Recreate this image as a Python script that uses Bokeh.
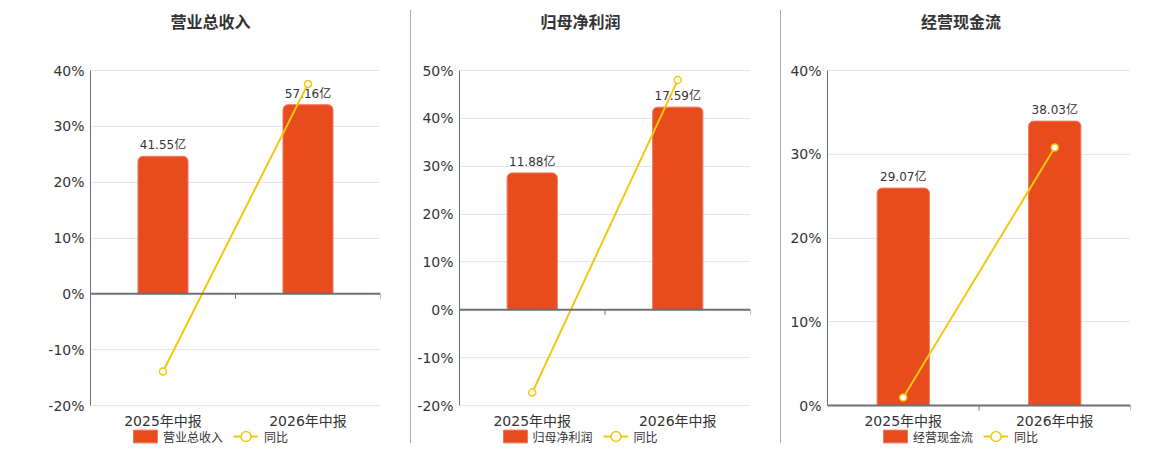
import math
from bokeh.plotting import figure
from bokeh.models import (Range1d, PrintfTickFormatter, FixedTicker, Span, Label,
                          Legend, LegendItem, Div)
from bokeh.layouts import row
from bokeh.core.properties import value
from bokeh.embed import file_html
from bokeh.resources import INLINE

# ---------------- data ----------------
categories = ["2025年中报", "2026年中报"]
titles = ["营业总收入", "归母净利润", "经营现金流"]
revenue = [41.55, 57.16]
revenue_yoy = [-13.9, 37.6]
profit = [11.88, 17.59]
profit_yoy = [-17.3, 48.0]
cashflow = [29.07, 38.03]
cashflow_yoy = [0.96, 30.8]
pct_ticks_1 = [-20, -10, 0, 10, 20, 30, 40]
pct_ticks_2 = [-20, -10, 0, 10, 20, 30, 40, 50]
pct_ticks_3 = [0, 10, 20, 30, 40]
unit = "亿"
yoy_name = "同比"

# ---------------- style / layout ----------------
BAR = "#E84B1C"
BAR_EDGE = "#F0785A"
LINE = "#F2C80F"
GRID = "#E0E6F1"
AXIS = "#6E7079"
TEXT = "#333333"
FONT = "DejaVu Sans, Noto Sans CJK SC"

CANVAS_H = 448
PLOT_TOP = 70      # px from canvas top to the top of the value area
PLOT_H = 335       # px height of the value area

panels = [
    dict(title=titles[0], bars=revenue, yoy=revenue_yoy, ticks=pct_ticks_1, bar_axis=(-33.75, 67.5),
         width=410, bl=90, br=30, title_off=-25, legend_x=43),
    dict(title=titles[1], bars=profit, yoy=profit_yoy, ticks=pct_ticks_2, bar_axis=(-8.31, 20.77),
         width=369, bl=48, br=30, title_off=-24.5, legend_x=43.5),
    dict(title=titles[2], bars=cashflow, yoy=cashflow_yoy, ticks=pct_ticks_3, bar_axis=(0, 44.8),
         width=371, bl=46, br=22, title_off=-18, legend_x=56),
]


def extend(lo, hi):
    """Range whose [lo, hi] part covers the value area, extended over the whole canvas."""
    ppu = PLOT_H / (hi - lo)
    return Range1d(lo - (CANVAS_H - PLOT_TOP - PLOT_H) / ppu, hi + PLOT_TOP / ppu)


def make_panel(cfg):
    ticks = cfg["ticks"]
    lo, hi = ticks[0], ticks[-1]
    n = len(categories)
    xs = [i + 0.5 for i in range(n)]          # category slots on the x scale
    p = figure(x_range=Range1d(0, n), y_range=extend(lo, hi),
               width=cfg["width"], height=CANVAS_H,
               min_border_left=cfg["bl"], min_border_right=cfg["br"],
               min_border_top=0, min_border_bottom=0,
               output_backend="svg", toolbar_location=None, tools="",
               x_axis_location=None)
    p.outline_line_color = None
    p.background_fill_color = "white"
    p.border_fill_color = "white"
    p.xgrid.visible = False
    p.ygrid.grid_line_color = GRID
    p.ygrid.grid_line_width = 1
    p.ygrid.ticker = FixedTicker(ticks=ticks)

    yax = p.yaxis[0]
    yax.ticker = FixedTicker(ticks=ticks)
    yax.bounds = (lo, hi)
    yax.formatter = PrintfTickFormatter(format="%d%%")
    yax.major_tick_out = 0
    yax.major_tick_in = 0
    yax.minor_tick_out = 0
    yax.minor_tick_in = 0
    yax.axis_line_color = AXIS
    yax.axis_line_width = 1
    yax.major_label_standoff = 6
    yax.major_label_text_font_size = "14px"
    yax.major_label_text_color = TEXT
    yax.major_label_text_font = FONT

    p.extra_y_ranges = {"bars": extend(*cfg["bar_axis"])}

    # bars
    bar_r = p.vbar(x=xs, top=cfg["bars"], bottom=0, width=0.345, y_range_name="bars",
                   fill_color=BAR, line_color=BAR_EDGE, line_width=1,
                   border_radius=(5, 5, 0, 0))
    p.text(x=xs, y=cfg["bars"], text=[f"{v:.2f}{unit}" for v in cfg["bars"]],
           y_range_name="bars", text_align="center", text_baseline="bottom", y_offset=-4,
           text_font_size="12px", text_color=TEXT, text_font=value(FONT))

    # category axis: zero line, boundary ticks, labels under the value area
    p.add_layout(Span(location=0, dimension="width", line_color=AXIS, line_width=2))
    p.ray(x=list(range(1, n + 1)), y=[0] * n, length=5, length_units="screen",
          angle=-math.pi / 2, line_color=AXIS, line_width=1)
    p.text(x=xs, y=[lo] * n, text=categories, text_align="center", text_baseline="middle",
           y_offset=15, text_font_size="14px", text_color=TEXT, text_font=value(FONT))

    # yoy line
    line_r = p.line(x=xs, y=cfg["yoy"], line_color=LINE, line_width=2)
    mark_r = p.scatter(x=xs, y=cfg["yoy"], marker="circle", size=7, fill_color="white",
                       line_color=LINE, line_width=1.5)

    # title
    p.add_layout(Label(x=n / 2, y=hi, x_offset=cfg["title_off"], y_offset=48,
                       text=cfg["title"], text_align="center", text_baseline="middle",
                       text_font_size="16px", text_font_style="bold", text_color=TEXT,
                       text_font=FONT))

    # legends
    common = dict(orientation="horizontal", padding=0, margin=0, border_line_color=None,
                  background_fill_alpha=0, label_text_font_size="12px", label_text_color=TEXT,
                  label_text_font=FONT, spacing=11)
    leg1 = Legend(items=[LegendItem(label=cfg["title"], renderers=[bar_r])],
                  location=(cfg["legend_x"] - 3, 3.5), glyph_width=30, glyph_height=16,
                  label_height=16, label_standoff=3, **common)
    leg2 = Legend(items=[LegendItem(label=yoy_name, renderers=[line_r, mark_r])],
                  location=(cfg["legend_x"] + 100, -1), glyph_width=25, glyph_height=26,
                  label_height=26, label_standoff=6, **common)
    p.add_layout(leg1)
    p.add_layout(leg2)
    return p


figs = [make_panel(c) for c in panels]


def separator():
    return Div(text="", width=1, height=433, margin=(10, 0, 0, 0),
               styles={"background-color": "#AAAAAA"})


layout = row(figs[0], separator(), figs[1], separator(), figs[2])

open("out.html", "w").write(file_html(layout, INLINE))
